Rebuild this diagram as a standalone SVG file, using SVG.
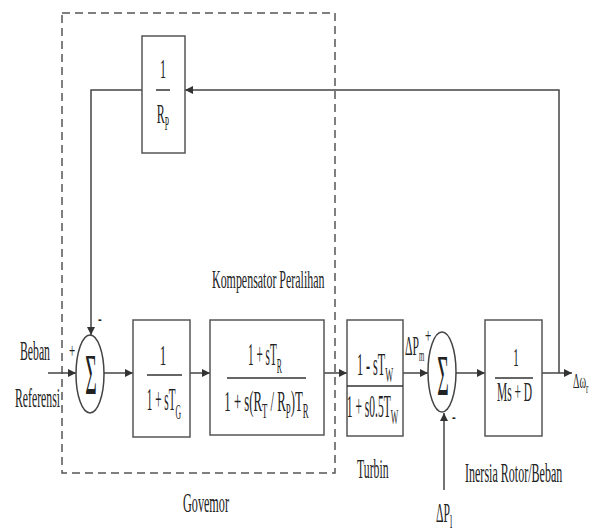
<svg xmlns="http://www.w3.org/2000/svg" width="592" height="531" viewBox="0 0 592 531">
<style>
.t{font-family:"Liberation Serif","Times New Roman",serif;fill:#222}
.box{fill:#fff;stroke:#555;stroke-width:1.5}
.fl{stroke:#333;stroke-width:1.5}
.ln{fill:none;stroke:#444;stroke-width:1.5}
.sum{fill:#fff;stroke:#444;stroke-width:1.5}
</style>
<defs>
<marker id="ah" viewBox="0 0 10 10" refX="10" refY="5" markerWidth="8" markerHeight="8" markerUnits="userSpaceOnUse" orient="auto">
<path d="M0,0 L10,5 L0,10 Z" fill="#333"/>
</marker>
</defs>
<rect x="0" y="0" width="592" height="531" fill="#fff"/>
<g id="governor-frame">
<rect x="62" y="13" width="273" height="460" fill="none" stroke="#555" stroke-width="1.5" stroke-dasharray="8 5"/>
</g>
<g id="connectors">
<path class="ln" d="M559,373 V90 H185" marker-end="url(#ah)"/>
<path class="ln" d="M142,90 H91 V335" marker-end="url(#ah)"/>
<path class="ln" d="M48,373 H76" marker-end="url(#ah)"/>
<path class="ln" d="M104,373 H133" marker-end="url(#ah)"/>
<path class="ln" d="M190,373 H210" marker-end="url(#ah)"/>
<path class="ln" d="M324,373 H347" marker-end="url(#ah)"/>
<path class="ln" d="M403,373 H428" marker-end="url(#ah)"/>
<path class="ln" d="M456,373 H485" marker-end="url(#ah)"/>
<path class="ln" d="M542,373 H572" marker-end="url(#ah)"/>
<path class="ln" d="M444,490 V413" marker-end="url(#ah)"/>
</g>
<g id="rp">
<rect class="box" x="142" y="36" width="43" height="117"/>
<line class="fl" x1="156" y1="90" x2="170" y2="90"/>
<text class="t" font-size="28" text-anchor="middle" transform="translate(163,78) scale(0.43,1)">1</text>
<text class="t" font-size="28" text-anchor="middle" transform="translate(163,123) scale(0.43,1)">R<tspan font-size="18" dy="7">P</tspan></text>
</g>
<g id="sum1">
<ellipse class="sum" cx="90" cy="374" rx="14" ry="39"/>
<text class="t" font-size="58" text-anchor="middle" transform="translate(91,394) scale(0.34,1)">Σ</text>
<text class="t" font-size="22" transform="translate(69,358) scale(0.5,1)">+</text>
<text class="t" font-size="22" transform="translate(98,325) scale(0.5,1)">-</text>
</g>
<g id="governor">
<rect class="box" x="133" y="320" width="57" height="117"/>
<line class="fl" x1="147" y1="375" x2="182" y2="375"/>
<text class="t" font-size="30" text-anchor="middle" transform="translate(163,365) scale(0.43,1)">1</text>
<text class="t" font-size="32" text-anchor="middle" transform="translate(164,410) scale(0.35,1)">1 + sT<tspan font-size="22" dy="9">G</tspan></text>
</g>
<g id="kompensator">
<rect class="box" x="210" y="320" width="114" height="115"/>
<line class="fl" x1="227" y1="378" x2="306" y2="378"/>
<text class="t" font-size="32" text-anchor="middle" transform="translate(265,365) scale(0.35,1)">1 + sT<tspan font-size="22" dy="8">R</tspan></text>
<text class="t" font-size="29" text-anchor="middle" transform="translate(266.5,411) scale(0.44,1)">1 + s(R<tspan font-size="20" dy="7">T</tspan><tspan dy="-7"> / R</tspan><tspan font-size="20" dy="7">P</tspan><tspan dy="-7">)T</tspan><tspan font-size="20" dy="7">R</tspan></text>
</g>
<g id="turbin">
<rect class="box" x="347" y="320" width="56" height="116"/>
<line class="fl" x1="347" y1="386" x2="403" y2="386"/>
<text class="t" font-size="32" text-anchor="middle" transform="translate(375,375) scale(0.38,1)">1 - sT<tspan font-size="22" dy="7">W</tspan></text>
<text class="t" font-size="32" text-anchor="middle" transform="translate(372.5,417) scale(0.36,1)">1 + s0.5T<tspan font-size="22" dy="7">W</tspan></text>
</g>
<g id="sum2">
<ellipse class="sum" cx="442" cy="372" rx="14" ry="40"/>
<text class="t" font-size="58" text-anchor="middle" transform="translate(443,395) scale(0.34,1)">Σ</text>
<text class="t" font-size="22" transform="translate(425,343) scale(0.5,1)">+</text>
<text class="t" font-size="22" transform="translate(452,423) scale(0.5,1)">-</text>
</g>
<g id="inersia">
<rect class="box" x="485" y="320" width="57" height="116"/>
<line class="fl" x1="495" y1="378" x2="533" y2="378"/>
<text class="t" font-size="26" text-anchor="middle" transform="translate(516,366) scale(0.42,1)">1</text>
<text class="t" font-size="28" text-anchor="middle" transform="translate(514.5,401) scale(0.41,1)">Ms + D</text>
</g>
<g id="labels">
<text class="t" font-size="27" transform="translate(20,360) scale(0.435,1)">Beban</text>
<text class="t" font-size="27" transform="translate(15,407) scale(0.435,1)">Referensi</text>
<text class="t" font-size="26" transform="translate(212,288) scale(0.46,1)">Kompensator Peralihan</text>
<text class="t" font-size="28" transform="translate(357,478) scale(0.42,1)">Turbin</text>
<text class="t" font-size="28" transform="translate(465,482) scale(0.43,1)">Inersia Rotor/Beban</text>
<text class="t" font-size="28" transform="translate(183,512) scale(0.435,1)">Govemor</text>
<text class="t" font-size="27" transform="translate(405,355) scale(0.43,1)">ΔP<tspan font-size="16" dy="6">m</tspan></text>
<text class="t" font-size="27" transform="translate(436,522) scale(0.43,1)">ΔP<tspan font-size="19" dy="6">l</tspan></text>
<text class="t" font-size="20" transform="translate(573,388) scale(0.5,1)">Δω<tspan font-size="14" dy="5">r</tspan></text>
</g>
</svg>
